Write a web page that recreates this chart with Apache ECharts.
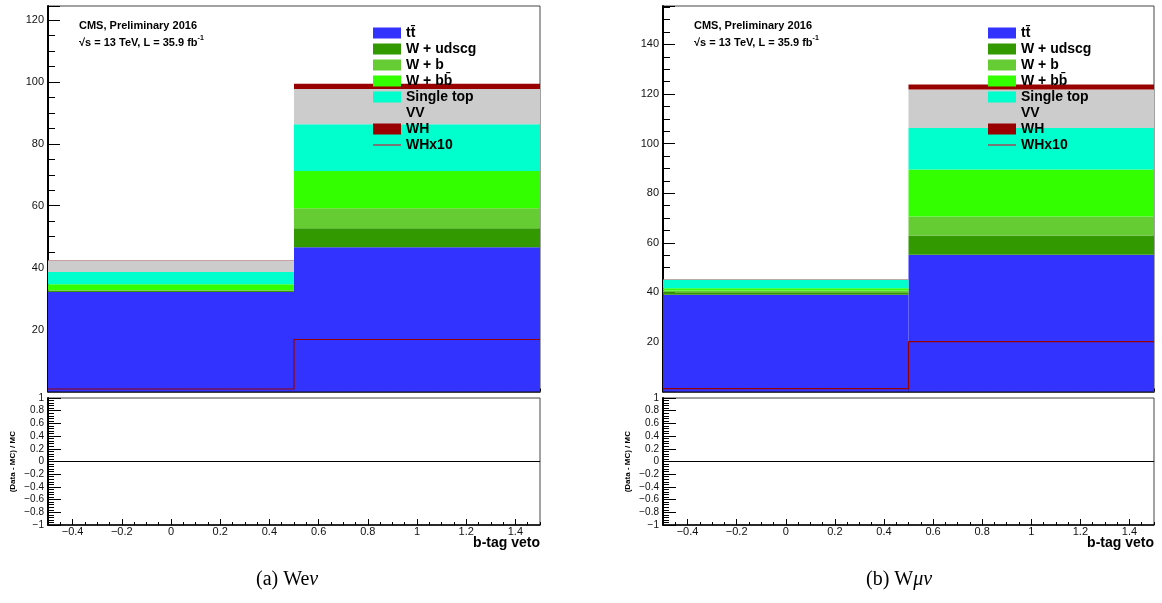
<!DOCTYPE html>
<html>
<head>
<meta charset="utf-8">
<script src="https://cdn.jsdelivr.net/npm/echarts@6/dist/echarts.min.js"></script>
<style>
html, body { margin: 0; background: #fff; }
#main { width: 1162px; height: 603px; }
</style>
</head>
<body>
<div id="main"></div>
<script>
var binEdges = [-0.5, 0.5, 1.5];
var procNames = ['tt\u0304', 'W + udscg', 'W + b', 'W + bb\u0304', 'Single top', 'VV', 'WH'];
var procColors = ['#3333ff', '#339900', '#66cc33', '#33ff00', '#00ffcc', '#cccccc', '#990000'];

// W e nu
var weTT = [32.1, 46.6];
var weUdscg = [0.4, 6.1];
var weB = [0.3, 6.5];
var weBB = [1.8, 12.0];
var weTop = [4.0, 15.1];
var weVV = [3.8, 11.4];
var weWH = [0.09, 1.65];
var weWHx10 = [0.8, 16.8];

// W mu nu
var wmTT = [39.0, 55.2];
var wmUdscg = [1.0, 7.7];
var wmB = [0.7, 7.7];
var wmBB = [0.9, 18.9];
var wmTop = [3.5, 16.8];
var wmVV = [0.2, 15.5];
var wmWH = [0.12, 2.0];
var wmWHx10 = [1.2, 20.1];

var majorX = [-0.4, -0.2, 0, 0.2, 0.4, 0.6, 0.8, 1, 1.2, 1.4];

var FONT = 'Liberation Sans, Arial, sans-serif';

var panels = [
    { left: 48, width: 492, ymax: 124.5, stacks: [weTT, weUdscg, weB, weBB, weTop, weVV, weWH], whx10: weWHx10, legendLeft: 373, textLeft: 79 },
    { left: 663, width: 491, ymax: 155.5, stacks: [wmTT, wmUdscg, wmB, wmBB, wmTop, wmVV, wmWH], whx10: wmWHx10, legendLeft: 988, textLeft: 694 }
];

function fmt(v) {
    return String(+(+v).toFixed(1)).replace('-', '\u2212');
}

function renderBox(params, api) {
    var a = api.coord([api.value(0), api.value(3)]);
    var b = api.coord([api.value(1), api.value(2)]);
    return {
        type: 'rect',
        shape: { x: a[0], y: a[1], width: b[0] - a[0], height: b[1] - a[1] },
        style: { fill: api.visual('color') }
    };
}

var grids = [], xAxes = [], yAxes = [], series = [], legends = [], graphics = [];

panels.forEach(function (p) {
    var gUp = grids.length;
    grids.push({ left: p.left, top: 6, width: p.width, height: 385.5, show: true, borderColor: '#444', borderWidth: 1 });
    var gLo = grids.length;
    grids.push({ left: p.left, top: 398, width: p.width, height: 127, show: true, borderColor: '#444', borderWidth: 1 });

    var xUp, xLo;
    [gUp, gLo].forEach(function (g) {
        var idx = xAxes.length;
        if (g === gUp) xUp = idx; else xLo = idx;
        xAxes.push({
            type: 'value', gridIndex: g, min: -0.5, max: 1.5, position: 'bottom', offset: 0,
            axisLine: { onZero: false, lineStyle: { color: '#000', width: 1.5 } },
            axisTick: { inside: true, length: 6, customValues: majorX, lineStyle: { color: '#000' } },
            axisLabel: { show: g === gLo, customValues: majorX, formatter: fmt, margin: 1, fontSize: 11, color: '#111', fontFamily: FONT },
            splitLine: { show: false }
        });
        xAxes.push({
            type: 'value', gridIndex: g, min: -0.5, max: 1.5, interval: 0.05, position: 'bottom', offset: 0,
            axisLine: { show: false, onZero: false },
            axisTick: { inside: true, length: 3, lineStyle: { color: '#000' } },
            axisLabel: { show: false },
            splitLine: { show: false }
        });
    });

    var yUp = yAxes.length;
    yAxes.push({
        type: 'value', gridIndex: gUp, min: 0, max: p.ymax, interval: 20, position: 'left',
        axisLine: { show: true, onZero: false, lineStyle: { color: '#000', width: 2 } },
        axisTick: { inside: true, length: 12, lineStyle: { color: '#000' } },
        minorTick: { show: true, splitNumber: 4, length: 7, lineStyle: { color: '#000' } },
        axisLabel: { showMinLabel: false, showMaxLabel: false, margin: 4, fontSize: 11, color: '#111', fontFamily: FONT },
        splitLine: { show: false }
    });
    var yLo = yAxes.length;
    yAxes.push({
        type: 'value', gridIndex: gLo, min: -1, max: 1, interval: 0.2, position: 'left',
        axisLine: { show: true, onZero: false, lineStyle: { color: '#000', width: 2 } },
        axisTick: { inside: true, length: 13, lineStyle: { color: '#000' } },
        minorTick: { show: true, splitNumber: 5, length: 6, lineStyle: { color: '#000' } },
        axisLabel: { formatter: fmt, margin: 4, fontSize: 10, color: '#111', fontFamily: FONT },
        splitLine: { show: false }
    });

    // stacked histogram boxes
    var base = [0, 0];
    p.stacks.forEach(function (vals, k) {
        var data = [];
        for (var i = 0; i < vals.length; i++) {
            data.push([binEdges[i], binEdges[i + 1], base[i], base[i] + vals[i]]);
            base[i] += vals[i];
        }
        series.push({
            name: procNames[k], type: 'custom', xAxisIndex: xUp, yAxisIndex: yUp,
            renderItem: renderBox, itemStyle: { color: procColors[k] },
            encode: { x: [0, 1], y: [2, 3] }, data: data, silent: true
        });
    });

    series.push({
        name: 'WHx10', type: 'line', xAxisIndex: xUp, yAxisIndex: yUp, step: 'end',
        symbol: 'none', lineStyle: { color: '#990000', width: 1.2 }, itemStyle: { color: '#990000' },
        data: [[binEdges[0], p.whx10[0]], [binEdges[1], p.whx10[1]], [binEdges[2], p.whx10[1]]],
        silent: true, z: 5
    });

    series.push({
        type: 'line', xAxisIndex: xLo, yAxisIndex: yLo, symbol: 'none',
        lineStyle: { color: '#000', width: 1 }, data: [[-0.5, 0], [1.5, 0]], silent: true
    });

    var legData = procNames.map(function (n) { return { name: n, icon: 'rect' }; });
    legData.push({ name: 'WHx10', icon: 'path://M0,0 L28,0 L28,2 L0,2 Z', itemStyle: { color: '#777' } });
    legends.push({
        left: p.legendLeft, top: 26, orient: 'vertical', padding: 0, itemGap: 2,
        itemWidth: 28, itemHeight: 11, selectedMode: false, data: legData,
        textStyle: { fontSize: 14, fontWeight: 'bold', color: '#000', fontFamily: FONT, lineHeight: 14 }
    });

    graphics.push({
        type: 'text', left: p.textLeft, top: 20,
        style: { text: 'CMS, Preliminary 2016', font: 'bold 11px ' + FONT, fill: '#000' }
    });
    graphics.push({
        type: 'text', left: p.textLeft, top: 35,
        style: {
            text: '{a|\u221As = 13 TeV, L = 35.9 fb}{b|-1}',
            rich: {
                a: { fontSize: 11, fontWeight: 'bold', fontFamily: FONT, fill: '#000', lineHeight: 15 },
                b: { fontSize: 7, fontWeight: 'bold', fontFamily: FONT, fill: '#000', verticalAlign: 'top', lineHeight: 8 }
            }
        }
    });
    graphics.push({
        type: 'text', left: p.left - 39, top: 431, rotation: Math.PI / 2,
        style: { text: '(Data - MC) / MC', font: 'bold 8px ' + FONT, fill: '#000' }
    });
    graphics.push({
        type: 'text', right: 1162 - (p.left + p.width), top: 536,
        style: { text: 'b-tag veto', font: 'bold 14px ' + FONT, fill: '#000' }
    });
});

graphics.push({
    type: 'text', left: 256, top: 570,
    style: { text: '{r|(a) We}{i|\u03BD}', rich: { r: { fontSize: 20, fontFamily: 'Liberation Serif, serif', fill: '#000' }, i: { fontSize: 20, fontStyle: 'italic', fontFamily: 'Liberation Serif, serif', fill: '#000' } } }
});
graphics.push({
    type: 'text', left: 866, top: 570,
    style: { text: '{r|(b) W}{i|\u03BC\u03BD}', rich: { r: { fontSize: 20, fontFamily: 'Liberation Serif, serif', fill: '#000' }, i: { fontSize: 20, fontStyle: 'italic', fontFamily: 'Liberation Serif, serif', fill: '#000' } } }
});

var myChart = echarts.init(document.getElementById('main'));
myChart.setOption({
    animation: false,
    backgroundColor: '#fff',
    grid: grids,
    xAxis: xAxes,
    yAxis: yAxes,
    legend: legends,
    series: series,
    graphic: graphics
});
</script>
</body>
</html>
